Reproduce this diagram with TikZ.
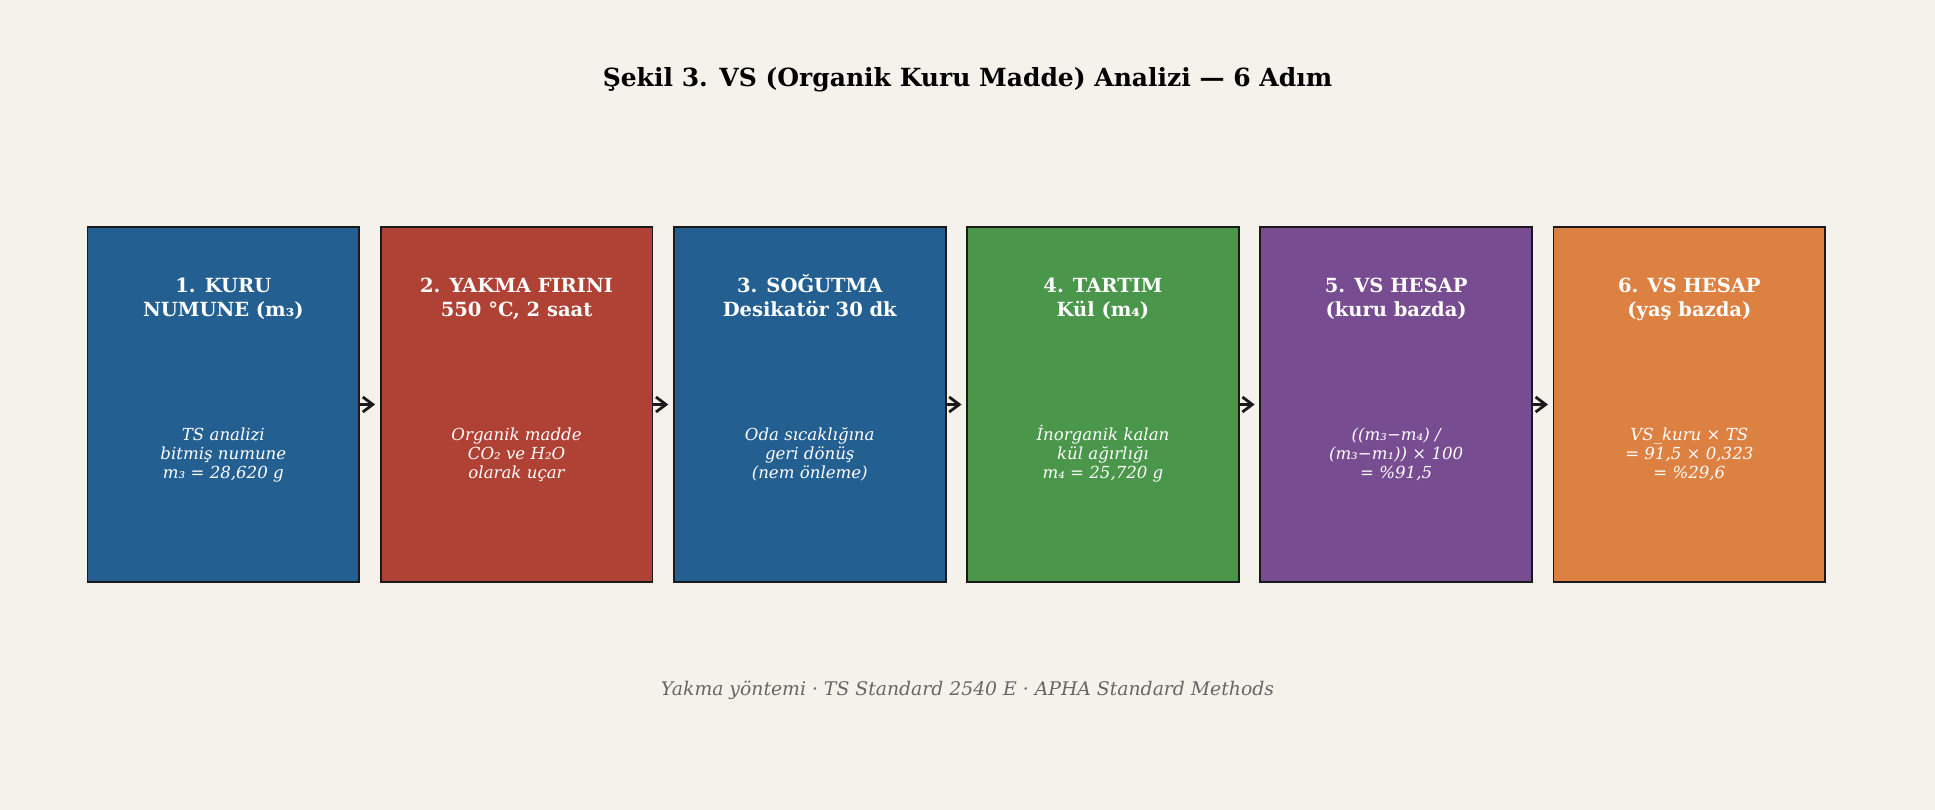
\documentclass[tikz,border=0pt]{standalone}
\usepackage{fontspec}
\setmainfont{DejaVu Serif}
\usetikzlibrary{arrows.meta}
\definecolor{bg}{HTML}{F5F2EB}
\definecolor{edge}{HTML}{1A1A1A}
\definecolor{cblue}{HTML}{245F92}
\definecolor{cred}{HTML}{B04135}
\definecolor{cgreen}{HTML}{4A964A}
\definecolor{cpurple}{HTML}{784C90}
\definecolor{corange}{HTML}{DC8142}
\definecolor{footgray}{HTML}{666666}
\newcommand{\tstrut}{\rule{0pt}{22pt}}
\newcommand{\tdstrut}{\rule[-6pt]{0pt}{6pt}}
\newcommand{\bstrut}{\rule{0pt}{17pt}}
\newcommand{\bdstrut}{\rule[-5pt]{0pt}{5pt}}
\begin{document}
\begin{tikzpicture}[x=1pt,y=-1pt,
  stepbox/.style={draw=edge, line width=1.8pt, minimum width=271.7pt, minimum height=354.4pt, inner sep=0pt, outer sep=0pt},
  boxtitle/.style={text=white, font=\fontsize{19.5}{24}\selectfont\bfseries, align=center, inner sep=0pt},
  boxbody/.style={text=white, font=\fontsize{16.6}{19.2}\selectfont\itshape, align=center, inner sep=0pt},
  flow/.style={-{Straight Barb[length=10pt,width=15pt]}, line width=2.8pt, draw=edge, shorten >=5.6pt}]
\useasboundingbox[fill=bg] (0,0) rectangle (1935,810);
\node[font=\fontsize{25}{30}\selectfont\bfseries, anchor=base, inner sep=0pt] (title) at (967.5,86.5) {Şekil 3. VS (Organik Kuru Madde) Analizi — 6 Adım};
\node[stepbox, fill=cblue]   (b1) at (223.35,404.5) {};
\node[stepbox, fill=cred]    (b2) at (516.55,404.5) {};
\node[stepbox, fill=cblue]   (b3) at (809.75,404.5) {};
\node[stepbox, fill=cgreen]  (b4) at (1102.95,404.5) {};
\node[stepbox, fill=cpurple] (b5) at (1396.15,404.5) {};
\node[stepbox, fill=corange] (b6) at (1689.35,404.5) {};
\node[boxtitle] (t1) at (223.35,296.7) {\tstrut 1. KURU\\NUMUNE (m₃)\tdstrut};
\node[boxtitle] (t2) at (516.55,296.7) {\tstrut 2. YAKMA FIRINI\\550 °C, 2 saat\tdstrut};
\node[boxtitle] (t3) at (809.75,296.7) {\tstrut 3. SOĞUTMA\\Desikatör 30 dk\tdstrut};
\node[boxtitle] (t4) at (1102.95,296.7) {\tstrut 4. TARTIM\\Kül (m₄)\tdstrut};
\node[boxtitle] (t5) at (1396.15,296.7) {\tstrut 5. VS HESAP\\(kuru bazda)\tdstrut};
\node[boxtitle] (t6) at (1689.35,296.7) {\tstrut 6. VS HESAP\\(yaş bazda)\tdstrut};
\node[boxbody] (d1) at (223.35,453.2) {\bstrut TS analizi\\bitmiş numune\\m₃ = 28,620 g\bdstrut};
\node[boxbody] (d2) at (516.55,453.2) {\bstrut Organik madde\\CO₂ ve H₂O\\olarak uçar\bdstrut};
\node[boxbody] (d3) at (809.75,453.2) {\bstrut Oda sıcaklığına\\geri dönüş\\(nem önleme)\bdstrut};
\node[boxbody] (d4) at (1102.95,453.2) {\bstrut İnorganik kalan\\kül ağırlığı\\m₄ = 25,720 g\bdstrut};
\node[boxbody] (d5) at (1396.15,453.2) {\bstrut ((m₃−m₄) /\\(m₃−m₁)) × 100\\= \%91,5\bdstrut};
\node[boxbody] (d6) at (1689.35,453.2) {\bstrut VS\_kuru × TS\\= 91,5 × 0,323\\= \%29,6\bdstrut};
\draw[flow] (b1) -- (b2);
\draw[flow] (b2) -- (b3);
\draw[flow] (b3) -- (b4);
\draw[flow] (b4) -- (b5);
\draw[flow] (b5) -- (b6);
\node[font=\fontsize{18.8}{22}\selectfont\itshape, text=footgray, anchor=base, inner sep=0pt] (foot) at (967.5,695.5) {Yakma yöntemi · TS Standard 2540 E · APHA Standard Methods};
\end{tikzpicture}
\end{document}
